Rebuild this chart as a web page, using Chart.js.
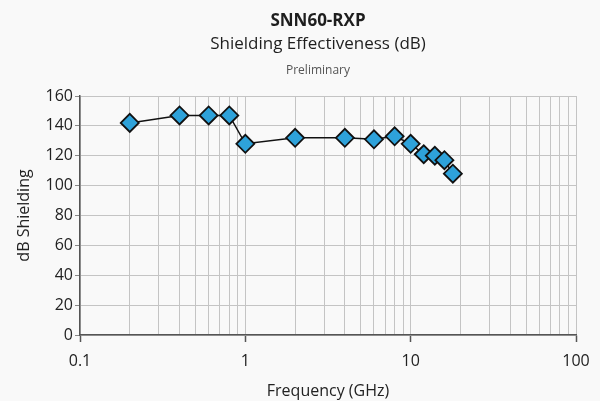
<!DOCTYPE html>
<html>
<head>
<meta charset="utf-8">
<script src="https://cdn.jsdelivr.net/npm/chart.js"></script>
<style>
  body { margin: 0; background: #f9f9f9; }
  canvas { display: block; }
</style>
</head>
<body>
<canvas id="seChart" width="600" height="401"></canvas>
<script>
const freqGHz = [0.2, 0.4, 0.6, 0.8, 1, 2, 4, 6, 8, 10, 12, 14, 16, 18];
const shieldingDb = [142, 147, 147, 147, 128, 132, 132, 131, 133, 128, 121, 120, 117, 108];

// Axis ticks
const xDecades = [0.1, 1, 10, 100];
const xMultipliers = [1, 2, 3, 4, 5, 6, 7, 8, 9];
const yTicks = [0, 20, 40, 60, 80, 100, 120, 140, 160];

const titleLines = ['SNN60-RXP', 'Shielding Effectiveness (dB)', 'Preliminary'];

const FONT = '"Open Sans", "Noto Sans", sans-serif';
const markerBlue = '#2ea2da';

// every gridline position on the log axis (1..9 per decade, plus the last decade)
let xGridValues = [];
xDecades.slice(0, -1).forEach(d => {
    xMultipliers.forEach(m => xGridValues.push(+(d * m).toPrecision(3)));
});
xGridValues.push(xDecades[xDecades.length - 1]);

let isDecade = (v) => xDecades.some(d => Math.abs(d - v) < 1e-9);

// Draws the three heading lines and the paper background
const headingPlugin = {
    id: 'heading',
    beforeDraw: (chart) => {
        const ctx = chart.ctx;
        ctx.save();
        ctx.fillStyle = '#f9f9f9';
        ctx.fillRect(0, 0, chart.width, chart.height);
        ctx.textAlign = 'center';
        ctx.textBaseline = 'middle';
        ctx.fillStyle = '#1e1e1e';
        ctx.font = 'bold 17px ' + FONT;
        ctx.fillText(titleLines[0], 318, 21);
        ctx.font = '17px ' + FONT;
        ctx.fillText(titleLines[1], 318, 44);
        ctx.fillStyle = '#555';
        ctx.font = '12px ' + FONT;
        ctx.fillText(titleLines[2], 318, 71);
        ctx.restore();
    }
};

let seChart = new Chart(document.getElementById('seChart').getContext('2d'), {
    type: 'line',
    data: {
        datasets: [{
            label: 'Shielding',
            data: freqGHz.map((f, i) => ({x: f, y: shieldingDb[i]})),
            borderColor: '#111',
            borderWidth: 1.5,
            tension: 0,
            pointStyle: 'rectRot',
            pointRadius: 9,
            pointBorderWidth: 1.8,
            pointBackgroundColor: markerBlue,
            pointBorderColor: '#111',
        }]
    },
    options: {
        responsive: false,
        animation: false,
        layout: {
            padding: {left: 0, right: 24, top: 96, bottom: 0}
        },
        plugins: {
            legend: {display: false},
            tooltip: {enabled: false},
            title: {display: false},
        },
        scales: {
            x: {
                type: 'logarithmic',
                min: 0.1,
                max: 100,
                afterBuildTicks: (axis) => {
                    axis.ticks = xGridValues.map(v => ({value: v, major: isDecade(v)}));
                },
                afterFit: (axis) => { axis.height = 66; },
                grid: {
                    color: '#c4c4c4',
                    lineWidth: 1,
                    tickLength: 7,
                    tickColor: (ctx) => (ctx.tick && isDecade(ctx.tick.value)) ? '#555' : 'rgba(0,0,0,0)',
                    tickWidth: 1.5,
                },
                border: {color: '#555', width: 1.5},
                ticks: {
                    autoSkip: false,
                    maxRotation: 0,
                    padding: 10,
                    color: '#222',
                    font: {family: FONT, size: 16},
                    callback: (value) => isDecade(value) ? String(value) : '',
                },
                title: {
                    display: true,
                    text: 'Frequency (GHz)',
                    color: '#222',
                    font: {family: FONT, size: 16},
                    padding: {top: 0, bottom: 0},
                }
            },
            y: {
                min: 0,
                max: 160,
                afterBuildTicks: (axis) => {
                    axis.ticks = yTicks.map(v => ({value: v}));
                },
                afterFit: (axis) => { axis.width = 80; },
                grid: {
                    color: '#c4c4c4',
                    lineWidth: 1,
                    tickLength: 5,
                    tickColor: '#888',
                },
                border: {color: '#555', width: 1.5},
                ticks: {
                    padding: 2,
                    color: '#222',
                    font: {family: FONT, size: 16},
                },
                title: {
                    display: true,
                    text: 'dB Shielding',
                    color: '#222',
                    font: {family: FONT, size: 16},
                    padding: {top: 15, bottom: 0},
                }
            }
        }
    },
    plugins: [headingPlugin]
});
</script>
</body>
</html>
